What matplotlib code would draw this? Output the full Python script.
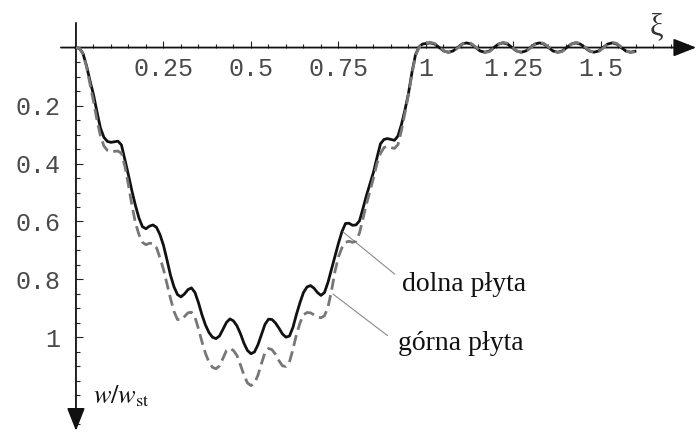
import matplotlib
matplotlib.use("Agg")
import matplotlib.pyplot as plt
from matplotlib.ticker import FixedLocator, NullFormatter

plt.rcParams["mathtext.fontset"] = "stix"

# ugięcie w/w_st, obszar obciążony (xi 0 .. 1)
xi_load = [0.00, 0.01, 0.02, 0.03, 0.04, 0.05, 0.06, 0.07, 0.08, 0.09,
           0.10, 0.11, 0.12, 0.13, 0.14, 0.15, 0.16, 0.17, 0.18, 0.19,
           0.20, 0.21, 0.22, 0.23, 0.24, 0.25, 0.26, 0.27, 0.28, 0.29,
           0.30, 0.31, 0.32, 0.33, 0.34, 0.35, 0.36, 0.37, 0.38, 0.39,
           0.40, 0.41, 0.42, 0.43, 0.44, 0.45, 0.46, 0.47, 0.48, 0.49,
           0.50, 0.51, 0.52, 0.53, 0.54, 0.55, 0.56, 0.57, 0.58, 0.59,
           0.60, 0.61, 0.62, 0.63, 0.64, 0.65, 0.66, 0.67, 0.68, 0.69,
           0.70, 0.71, 0.72, 0.73, 0.74, 0.75, 0.76, 0.77, 0.78, 0.79,
           0.80, 0.81, 0.82, 0.83, 0.84, 0.85, 0.86, 0.87, 0.88, 0.89,
           0.90, 0.91, 0.92, 0.93, 0.94, 0.95, 0.96, 0.97, 0.98, 0.99,
           1.00]

dolna_load = [0.000, 0.003, 0.020, 0.062, 0.114, 0.162, 0.222, 0.278, 0.310, 0.324,
              0.327, 0.325, 0.323, 0.336, 0.388, 0.440, 0.495, 0.545, 0.588, 0.618,
              0.625, 0.616, 0.612, 0.620, 0.645, 0.682, 0.732, 0.785, 0.825, 0.852,
              0.860, 0.850, 0.835, 0.829, 0.845, 0.880, 0.922, 0.957, 0.983, 0.999,
              1.004, 0.995, 0.972, 0.948, 0.936, 0.943, 0.960, 0.987, 1.020, 1.045,
              1.056, 1.050, 1.025, 0.990, 0.955, 0.937, 0.938, 0.950, 0.968, 0.988,
              0.999, 0.995, 0.965, 0.920, 0.880, 0.845, 0.826, 0.821, 0.830, 0.845,
              0.855, 0.845, 0.810, 0.765, 0.720, 0.675, 0.635, 0.607, 0.606, 0.613,
              0.612, 0.598, 0.555, 0.510, 0.470, 0.430, 0.380, 0.332, 0.317, 0.314,
              0.317, 0.320, 0.305, 0.265, 0.215, 0.158, 0.085, 0.025, -0.002, -0.012,
              -0.014]

gorna_load = [0.000, 0.002, 0.022, 0.065, 0.125, 0.185, 0.250, 0.305, 0.340, 0.355,
              0.360, 0.358, 0.357, 0.365, 0.410, 0.475, 0.545, 0.605, 0.645, 0.672,
              0.680, 0.675, 0.676, 0.690, 0.725, 0.765, 0.815, 0.865, 0.910, 0.938,
              0.940, 0.928, 0.915, 0.913, 0.930, 0.970, 1.015, 1.055, 1.085, 1.103,
              1.108, 1.098, 1.072, 1.045, 1.038, 1.045, 1.062, 1.095, 1.130, 1.157,
              1.166, 1.158, 1.130, 1.090, 1.052, 1.038, 1.042, 1.058, 1.080, 1.098,
              1.100, 1.085, 1.040, 0.990, 0.950, 0.922, 0.914, 0.915, 0.922, 0.930,
              0.932, 0.925, 0.895, 0.840, 0.772, 0.722, 0.690, 0.672, 0.668, 0.672,
              0.668, 0.640, 0.590, 0.540, 0.495, 0.450, 0.400, 0.365, 0.345, 0.340,
              0.345, 0.348, 0.335, 0.285, 0.225, 0.162, 0.090, 0.028, 0.000, -0.012,
              -0.015]

# drgania za obciążeniem (xi > 1)
xi_tail = [1.012, 1.025, 1.038, 1.051, 1.064, 1.077, 1.090, 1.103, 1.116, 1.129,
           1.142, 1.155, 1.168, 1.181, 1.194, 1.207, 1.220, 1.233, 1.246, 1.259,
           1.272, 1.285, 1.298, 1.311, 1.324, 1.337, 1.350, 1.363, 1.376, 1.389,
           1.402, 1.415, 1.428, 1.441, 1.454, 1.467, 1.480, 1.493, 1.506, 1.519,
           1.532, 1.545, 1.558, 1.571, 1.584, 1.597]

dolna_tail = [-0.016, -0.012, 0.000, 0.012, 0.016, 0.012, 0.000, -0.012, -0.016, -0.012,
              0.000, 0.012, 0.016, 0.012, 0.000, -0.012, -0.016, -0.012, 0.000, 0.012,
              0.016, 0.012, 0.000, -0.012, -0.016, -0.012, 0.000, 0.012, 0.016, 0.012,
              0.000, -0.012, -0.016, -0.012, 0.000, 0.012, 0.016, 0.012, 0.000, -0.012,
              -0.016, -0.012, 0.000, 0.012, 0.016, 0.013]

gorna_tail = [-0.018, -0.014, -0.002, 0.011, 0.017, 0.014, 0.002, -0.011, -0.018, -0.014,
              -0.002, 0.011, 0.017, 0.014, 0.002, -0.011, -0.018, -0.014, -0.002, 0.011,
              0.017, 0.014, 0.002, -0.011, -0.018, -0.014, -0.002, 0.011, 0.017, 0.014,
              0.002, -0.011, -0.018, -0.014, -0.002, 0.011, 0.017, 0.014, 0.002, -0.011,
              -0.018, -0.014, -0.002, 0.011, 0.017, 0.015]

x_ticks = [0.25, 0.5, 0.75, 1, 1.25, 1.5]
x_tick_labels = ["0.25", "0.5", "0.75", "1", "1.25", "1.5"]
y_ticks = [0.2, 0.4, 0.6, 0.8, 1]
y_tick_labels = ["0.2", "0.4", "0.6", "0.8", "1"]

xi = xi_load + xi_tail
dolna = dolna_load + dolna_tail
gorna = gorna_load + gorna_tail

fig = plt.figure(figsize=(6.99, 4.34), dpi=100)
ax = fig.add_axes([0, 0, 1, 1])
ax.set_xlim(-0.217, 1.78)
ax.set_ylim(1.333, -0.164)

ax.plot(xi, dolna, color="#111111", lw=2.0, zorder=3)
ax.plot(xi, gorna, color="#777777", lw=2.0, dashes=(4, 2), zorder=4)

# osie ze strzałkami przez punkt (0, 0)
for s in ["top", "right", "bottom", "left"]:
    ax.spines[s].set_visible(False)
ax.spines["bottom"].set_position(("data", 0))
ax.spines["left"].set_position(("data", 0))

arrow = dict(arrowstyle="-|>,head_length=1.4,head_width=0.55", color="#111111",
             lw=1.3, shrinkA=0, shrinkB=0)
ax.annotate("", xy=(1.772, 0), xytext=(-0.043, 0), arrowprops=arrow, zorder=2)
ax.annotate("", xy=(0, 1.322), xytext=(0, -0.085), arrowprops=arrow, zorder=2)

ax.xaxis.set_major_locator(FixedLocator(x_ticks))
ax.xaxis.set_minor_locator(FixedLocator([k * 0.05 for k in range(1, 36)]))
ax.set_xticklabels(x_tick_labels)
ax.yaxis.set_major_locator(FixedLocator(y_ticks))
ax.yaxis.set_minor_locator(FixedLocator([k * 0.05 for k in range(1, 27)]))
ax.set_yticklabels(y_tick_labels)
ax.xaxis.set_minor_formatter(NullFormatter())
ax.yaxis.set_minor_formatter(NullFormatter())

ax.tick_params(which="both", direction="in", color="#222222", width=0.8)
ax.tick_params(which="major", length=5)
ax.tick_params(which="minor", length=3)
ax.tick_params(axis="x", which="major", pad=7)
ax.tick_params(axis="y", which="major", pad=11)
for lab in ax.get_xticklabels() + ax.get_yticklabels():
    lab.set_fontfamily("Liberation Mono")
    lab.set_fontsize(18)
    lab.set_color("#4a4a4a")

ax.text(1.657, -0.071, "ξ", fontsize=22, family="Liberation Serif",
        color="#333333", ha="center", va="center")
ax.text(0.131, 1.205, r"$w/w_{\mathrm{st}}$", fontsize=19, color="#111111",
        ha="center", va="center")

ax.annotate("dolna płyta", xy=(0.763, 0.636), xytext=(0.931, 0.819),
            fontsize=20, family="Liberation Serif", color="#111111",
            ha="left", va="center",
            arrowprops=dict(arrowstyle="-", color="#8a8a8a", lw=0.8,
                            shrinkA=4, shrinkB=0, relpos=(0, 0.7)))
ax.annotate("górna płyta", xy=(0.734, 0.85), xytext=(0.92, 1.021),
            fontsize=20, family="Liberation Serif", color="#111111",
            ha="left", va="center",
            arrowprops=dict(arrowstyle="-", color="#8a8a8a", lw=0.8,
                            shrinkA=7, shrinkB=0, relpos=(0, 0.5)))

fig.savefig("out.png", dpi=100)
